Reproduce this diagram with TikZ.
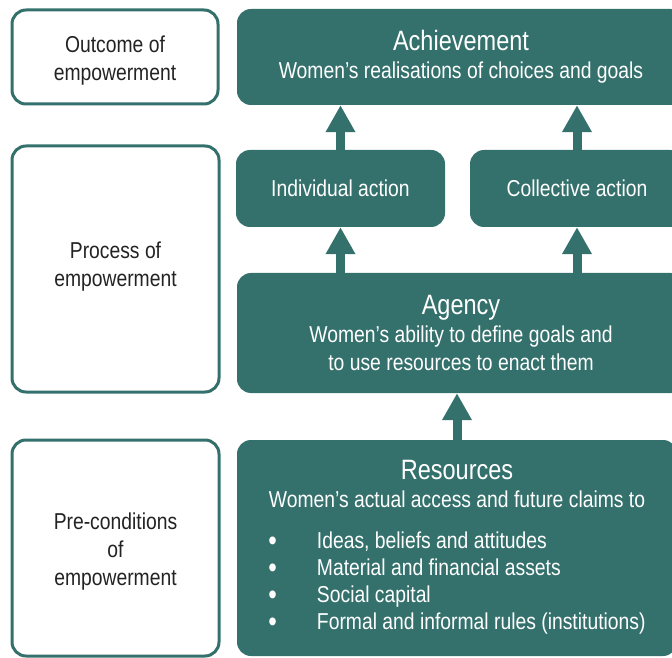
\documentclass[tikz,border=0pt]{standalone}
\usepackage{fontspec}
\setmainfont[FakeStretch=0.84]{Liberation Sans}
\usepackage{xcolor}
\usepackage{tikz}
\usetikzlibrary{arrows.meta,positioning}

\definecolor{empteal}{RGB}{52,113,108}
\definecolor{labelgray}{RGB}{35,35,35}

\newcommand{\boxhead}[1]{{\fontsize{28}{30}\selectfont #1}}
\newcommand{\bigbullet}{\raisebox{-2pt}{\fontsize{29}{27}\selectfont\textbullet}}

\tikzset{
  stagebox/.style={draw=empteal, line width=3pt, fill=white, rounded corners=14pt,
    inner sep=0pt, align=center, text=labelgray, font=\fontsize{23}{28}\selectfont},
  tealbox/.style={fill=empteal, rounded corners=14pt, inner sep=0pt, align=center,
    text=white, font=\fontsize{23}{28}\selectfont},
  uparrow/.style={draw=empteal, line width=9pt, -{Triangle[width=28pt,length=27pt]}}
}

\begin{document}
\begin{tikzpicture}[x=1pt,y=1pt]
  \useasboundingbox (0,0) rectangle (672,657);
  \clip (0,0) rectangle (672,657);

  % left column: stages
  \node[stagebox, minimum width=206pt, minimum height=94pt] (outcome) at (115,600)
    {Outcome of\\empowerment\\[-30pt]};
  \node[stagebox, minimum width=207pt, minimum height=246pt] (process) at (115.5,388)
    {Process of\\empowerment\\[-18pt]};
  \node[stagebox, minimum width=207pt, minimum height=216pt] (precond) at (115.5,109)
    {Pre-conditions\\of\\empowerment\\[-30pt]};

  % right column
  \node[tealbox, minimum width=448pt, minimum height=96pt] (achieve) at (461,600)
    {\boxhead{Achievement}\\Women’s realisations of choices and goals};
  \node[tealbox, minimum width=209pt, minimum height=77pt] (indiv) at (340.5,468.5)
    {Individual action};
  \node[tealbox, minimum width=214pt, minimum height=77pt] (collect) at (577,468.5)
    {Collective action};
  \node[tealbox, minimum width=448pt, minimum height=120pt] (agency) at (461,324)
    {\boxhead{Agency}\\Women’s ability to define goals and\\to use resources to enact them};
  \node[tealbox, minimum width=440pt, minimum height=216pt] (resources) at (457,109)
    {\boxhead{Resources}\\Women’s actual access and future claims to\\[21pt]
     \fontsize{23}{27}\selectfont
     \begin{tabular}{@{}l@{\hspace{40pt}}l@{}}
       \bigbullet & Ideas, beliefs and attitudes\\
       \bigbullet & Material and financial assets\\
       \bigbullet & Social capital\\
       \bigbullet & Formal and informal rules (institutions)
     \end{tabular}\\[-2pt]};

  % arrows
  \draw[uparrow] (indiv.north) -- (indiv.north |- achieve.south);
  \draw[uparrow] (collect.north) -- (collect.north |- achieve.south);
  \draw[uparrow] (indiv.south |- agency.north) -- (indiv.south);
  \draw[uparrow] (collect.south |- agency.north) -- (collect.south);
  \draw[uparrow] (resources.north) -- (resources.north |- agency.south);
\end{tikzpicture}
\end{document}
